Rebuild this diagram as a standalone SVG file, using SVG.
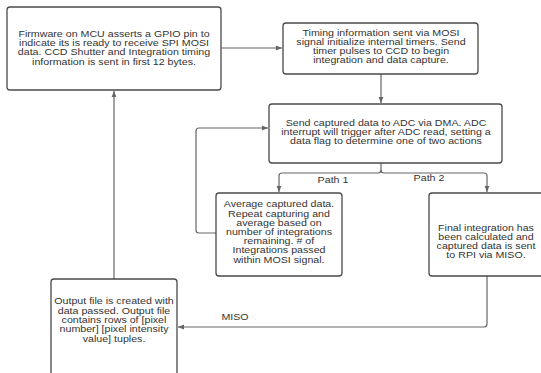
<svg xmlns="http://www.w3.org/2000/svg" width="541" height="373" viewBox="0 0 541 373">
<defs>
<style>
.box{fill:#fff;stroke:#4a4a4a;stroke-width:1.3}
.t{font-family:"Liberation Sans",Arial,sans-serif;font-size:8.2px;fill:#333;text-anchor:middle}
.c{fill:none;stroke:#666;stroke-width:1.2}
</style>
<marker id="ah" viewBox="0 0 10 10" refX="10" refY="5" markerWidth="6" markerHeight="6" markerUnits="userSpaceOnUse" orient="auto">
<path d="M0,1 L10,5 L0,9 Z" fill="#666"/>
</marker>
</defs>
<rect width="541" height="373" fill="#fff"/>
<g id="connectors">
<path class="c" d="M221,48 H282" marker-end="url(#ah)"/>
<path class="c" d="M381,74 V103" marker-end="url(#ah)"/>
<path class="c" d="M381,163 V170 Q381,173 378,173 H282 Q279,173 279,176 V192" marker-end="url(#ah)"/>
<path class="c" d="M381,170 Q381,173 384,173 H484 Q487,173 487,176 V192" marker-end="url(#ah)"/>
<path class="c" d="M216,233 H199 Q196,233 196,230 V131 Q196,128 199,128 H268" marker-end="url(#ah)"/>
<path class="c" d="M487,276 V324 Q487,327 484,327 H178" marker-end="url(#ah)"/>
<path class="c" d="M114,279 V91" marker-end="url(#ah)"/>
<g transform="translate(333,0) scale(1.3,1)"><text class="t" x="0" y="183">Path 1</text></g>
<g transform="translate(429,0) scale(1.3,1)"><text class="t" x="0" y="181">Path 2</text></g>
<g transform="translate(235,0) scale(1.3,1)"><text class="t" x="0" y="320">MISO</text></g>
</g>
<g id="n1">
<rect class="box" x="7" y="7" width="214" height="83" rx="3"/>
<g transform="translate(114,0) scale(1.3,1)">
<text class="t" x="0" y="37">Firmware on MCU asserts a GPIO pin to</text>
<text class="t" x="0" y="46.2">indicate its is ready to receive SPI MOSI</text>
<text class="t" x="0" y="55.4">data. CCD Shutter and Integration timing</text>
<text class="t" x="0" y="64.6">information is sent in first 12 bytes.</text>
</g>
</g>
<g id="n2">
<rect class="box" x="283" y="23" width="195" height="51" rx="3"/>
<g transform="translate(381,0) scale(1.3,1)">
<text class="t" x="0" y="35.8">Timing information sent via MOSI</text>
<text class="t" x="0" y="45">signal initialize internal timers. Send</text>
<text class="t" x="0" y="54.2">timer pulses to CCD to begin</text>
<text class="t" x="0" y="63.4">integration and data capture.</text>
</g>
</g>
<g id="n3">
<rect class="box" x="269" y="104" width="233" height="59" rx="3"/>
<g transform="translate(386,0) scale(1.3,1)">
<text class="t" x="0" y="125.8">Send captured data to ADC via DMA. ADC</text>
<text class="t" x="0" y="135">interrupt will trigger after ADC read, setting a</text>
<text class="t" x="0" y="144.2">data flag to determine one of two actions</text>
</g>
</g>
<g id="n4">
<rect class="box" x="216" y="193" width="126" height="83" rx="3"/>
<g transform="translate(279,0) scale(1.3,1)">
<text class="t" x="0" y="207.5">Average captured data.</text>
<text class="t" x="0" y="216.7">Repeat capturing and</text>
<text class="t" x="0" y="225.9">average based on</text>
<text class="t" x="0" y="235.1">number of integrations</text>
<text class="t" x="0" y="244.3">remaining. # of</text>
<text class="t" x="0" y="253.5">Integrations passed</text>
<text class="t" x="0" y="262.7">within MOSI signal.</text>
</g>
</g>
<g id="n5">
<rect class="box" x="429" y="193" width="120" height="83" rx="3"/>
<g transform="translate(486,0) scale(1.3,1)">
<text class="t" x="0" y="230.8">Final integration has</text>
<text class="t" x="0" y="240">been calculated and</text>
<text class="t" x="0" y="249.2">captured data is sent</text>
<text class="t" x="0" y="258.4">to RPI via MISO.</text>
</g>
</g>
<g id="n6">
<rect class="box" x="51" y="279" width="126" height="110" rx="3"/>
<g transform="translate(114,0) scale(1.3,1)">
<text class="t" x="0" y="304.5">Output file is created with</text>
<text class="t" x="0" y="313.8">data passed. Output file</text>
<text class="t" x="0" y="323.1">contains rows of [pixel</text>
<text class="t" x="0" y="332.4">number] [pixel intensity</text>
<text class="t" x="0" y="341.7">value] tuples.</text>
</g>
</g>
</svg>
